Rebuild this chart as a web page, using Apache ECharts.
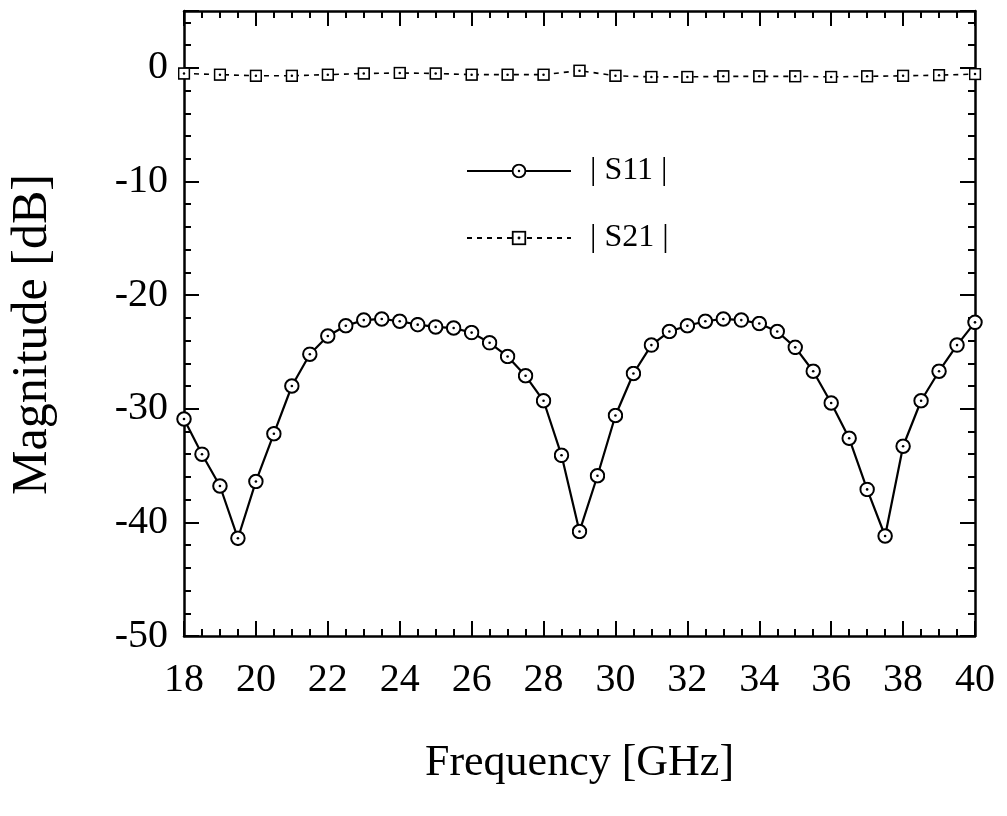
<!DOCTYPE html>
<html>
<head>
<meta charset="utf-8">
<script src="https://cdn.jsdelivr.net/npm/echarts@6/dist/echarts.min.js"></script>
<style>
html,body{margin:0;padding:0;background:#fff;}
#chart{width:1007px;height:816px;}
</style>
</head>
<body>
<div id="chart"></div>
<script>
// ---- data ----
const freqS11 = [18.0,18.5,19.0,19.5,20.0,20.5,21.0,21.5,22.0,22.5,23.0,23.5,24.0,24.5,25.0,25.5,26.0,26.5,27.0,27.5,28.0,28.5,29.0,29.5,30.0,30.5,31.0,31.5,32.0,32.5,33.0,33.5,34.0,34.5,35.0,35.5,36.0,36.5,37.0,37.5,38.0,38.5,39.0,39.5,40.0];
const s11 = [-30.9,-34.0,-36.8,-41.4,-36.4,-32.2,-28.0,-25.2,-23.6,-22.7,-22.2,-22.1,-22.3,-22.6,-22.8,-22.9,-23.3,-24.2,-25.4,-27.1,-29.3,-34.1,-40.8,-35.9,-30.6,-26.9,-24.4,-23.2,-22.7,-22.3,-22.1,-22.2,-22.5,-23.2,-24.6,-26.7,-29.5,-32.6,-37.1,-41.2,-33.3,-29.3,-26.7,-24.4,-22.4];
const freqS21 = [18,19,20,21,22,23,24,25,26,27,28,29,30,31,32,33,34,35,36,37,38,39,40];
const s21 = [-0.5,-0.6,-0.7,-0.7,-0.6,-0.5,-0.45,-0.5,-0.6,-0.6,-0.6,-0.25,-0.7,-0.8,-0.8,-0.75,-0.75,-0.75,-0.8,-0.75,-0.7,-0.65,-0.55];
const seriesNames = ['| S11 |', '| S21 |'];
const xTitle = 'Frequency [GHz]';
const yTitle = 'Magnitude [dB]';

const FONT = "'Liberation Serif', 'Times New Roman', serif";

function svgUri(svg){ return 'image://data:image/svg+xml;charset=utf-8,' + encodeURIComponent(svg); }
const circleSym = svgUri("<svg xmlns='http://www.w3.org/2000/svg' width='32' height='32' viewBox='0 0 32 32'><circle cx='16' cy='16' r='13.5' fill='white' stroke='black' stroke-width='4'/><circle cx='16' cy='16' r='2.6' fill='black'/></svg>");
const squareSym = svgUri("<svg xmlns='http://www.w3.org/2000/svg' width='24' height='24' viewBox='0 0 24 24'><rect x='2' y='2' width='20' height='20' fill='white' stroke='black' stroke-width='3'/><circle cx='12' cy='12' r='2.3' fill='black'/></svg>");

const pair = (xs, ys) => xs.map((x, i) => [x, ys[i]]);

function xAx(pos, labels){
  return {
    type: 'value', position: pos, min: 18, max: 40, interval: 2,
    axisLine: {show: true, onZero: false, lineStyle: {color: '#000', width: 2.5}},
    axisTick: {show: true, inside: true, length: 15, lineStyle: {color: '#000', width: 2}},
    minorTick: {show: true, splitNumber: 4, length: 7, lineStyle: {color: '#000', width: 2}},
    splitLine: {show: false}, minorSplitLine: {show: false},
    axisLabel: labels ? {show: true, margin: 24, fontSize: 40, fontFamily: FONT, color: '#000'} : {show: false},
    name: labels ? xTitle : '', nameLocation: 'middle', nameGap: 105,
    nameTextStyle: {fontSize: 44, fontFamily: FONT, color: '#000'}
  };
}
function yAx(pos, major, labels){
  return {
    type: 'value', position: pos, min: -50, max: 5, interval: major ? 10 : 2,
    axisLine: major ? {show: true, onZero: false, lineStyle: {color: '#000', width: 2.5}} : {show: false, onZero: false},
    axisTick: {show: true, inside: true, length: major ? 15 : 7, lineStyle: {color: '#000', width: 2}},
    splitLine: {show: false},
    axisLabel: labels ? {show: true, margin: 16, fontSize: 40, fontFamily: FONT, color: '#000',
      formatter: v => (v > 0 ? '' : String(v))} : {show: false},
    name: labels ? yTitle : '', nameLocation: 'middle', nameGap: 126, nameRotate: 90,
    nameTextStyle: {fontSize: 50, fontFamily: FONT, color: '#000', padding: [0, 22, 0, 0]}
  };
}

const chart = echarts.init(document.getElementById('chart'), null, {renderer: 'canvas'});
chart.setOption({
  backgroundColor: '#fff',
  animation: false,
  grid: {left: 179, right: 32, top: 11, bottom: 180, containLabel: false},
  xAxis: [xAx('bottom', true), xAx('top', false)],
  yAxis: [yAx('left', true, true), yAx('left', false, false), yAx('right', true, false), yAx('right', false, false)],
  legend: {
    orient: 'vertical', left: 461, top: 150, itemGap: 35,
    itemWidth: 104, itemHeight: 19,
    data: seriesNames,
    textStyle: {fontSize: 32, lineHeight: 32, fontFamily: FONT, color: '#000', padding: [0, 0, 0, 14]}
  },
  series: [
    {
      name: seriesNames[0], type: 'line', data: pair(freqS11, s11),
      symbol: circleSym, symbolSize: 16, z: 3,
      lineStyle: {color: '#000', width: 2.2},
      itemStyle: {color: '#000'}
    },
    {
      name: seriesNames[1], type: 'line', data: pair(freqS21, s21),
      symbol: squareSym, symbolSize: 13, z: 3,
      lineStyle: {color: '#000', width: 1.6, type: [5, 5]},
      itemStyle: {color: '#000'}
    }
  ]
});
</script>
</body>
</html>
